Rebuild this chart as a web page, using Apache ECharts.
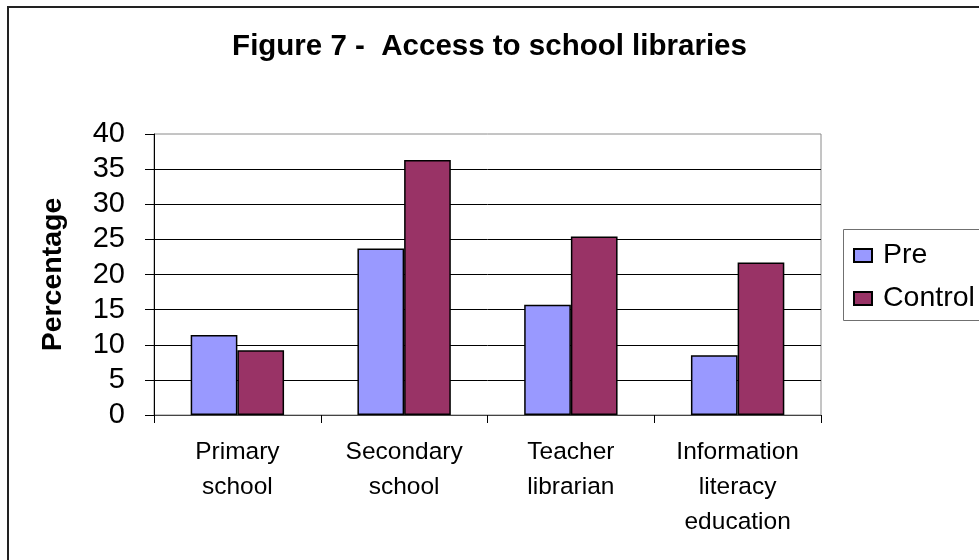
<!DOCTYPE html>
<html>
<head>
<meta charset="utf-8">
<script src="https://cdn.jsdelivr.net/npm/echarts@6/dist/echarts.min.js"></script>
<style>
  html, body { margin: 0; padding: 0; background: #fff; }
  #chart { width: 979px; height: 560px; }
</style>
</head>
<body>
<div id="chart"></div>
<script>
// Survey categories and percentages for each group
const categories = ['Primary\nschool', 'Secondary\nschool', 'Teacher\nlibrarian', 'Information\nliteracy\neducation'];
const preValues = [11.4, 23.7, 15.7, 8.5];
const controlValues = [9.2, 36.3, 25.4, 21.7];
const seriesNames = ['Pre', 'Control'];

const FONT = 'Arial, "Liberation Sans", sans-serif';

const chart = echarts.init(document.getElementById('chart'), null, { renderer: 'canvas' });

chart.setOption({
  backgroundColor: '#ffffff',
  animation: false,
  title: {
    text: 'Figure 7 -  Access to school libraries',
    left: 'center',
    top: 27,
    textStyle: { fontFamily: FONT, fontSize: 29.5, fontWeight: 'bold', color: '#000' }
  },
  graphic: [
    {
      // outer chart frame (runs off the right and bottom edges)
      type: 'rect',
      shape: { x: 8, y: 7, width: 1200, height: 800 },
      style: { fill: 'none', stroke: '#222', lineWidth: 2 },
      silent: true
    },
    {
      // legend frame, open past the right edge
      type: 'rect',
      shape: { x: 843.5, y: 229.5, width: 300, height: 91 },
      style: { fill: 'none', stroke: '#707070', lineWidth: 1 },
      silent: true
    }
  ],
  legend: {
    orient: 'vertical',
    left: 843,
    top: 229,
    padding: [12, 10, 8, 10],
    itemGap: 14,
    itemWidth: 18,
    itemHeight: 13,
    borderWidth: 0,
    icon: 'rect',
    data: seriesNames,
    textStyle: { fontFamily: FONT, fontSize: 28.5, color: '#000', lineHeight: 29, padding: [0, 0, 0, 6] }
  },
  grid: {
    left: 154, right: 158, top: 134, bottom: 145,
    show: true, borderColor: '#8a8a8a', borderWidth: 1, backgroundColor: 'transparent'
  },
  xAxis: {
    type: 'category',
    data: categories,
    axisLine: { show: true, lineStyle: { color: '#444', width: 1 } },
    axisTick: { show: true, length: 8, lineStyle: { color: '#000' } },
    axisLabel: { fontFamily: FONT, fontSize: 24.5, color: '#000', lineHeight: 35, margin: 20, interval: 0 }
  },
  yAxis: {
    type: 'value',
    min: 0, max: 40, interval: 5,
    name: 'Percentage',
    nameLocation: 'middle',
    nameGap: 86,
    nameRotate: 90,
    nameTextStyle: { fontFamily: FONT, fontSize: 28.5, fontWeight: 'bold', color: '#000' },
    axisLine: { show: true, lineStyle: { color: '#000', width: 1 } },
    axisTick: { show: true, length: 9, lineStyle: { color: '#000' } },
    axisLabel: { fontFamily: FONT, fontSize: 29, color: '#000', margin: 29 },
    splitLine: { show: true, showMaxLine: false, lineStyle: { color: '#000', width: 1 } }
  },
  series: [
    {
      name: seriesNames[0],
      type: 'bar',
      data: preValues,
      barGap: '0%',
      barCategoryGap: '44%',
      itemStyle: { color: '#9999FF', borderColor: '#000', borderWidth: 1.5 }
    },
    {
      name: seriesNames[1],
      type: 'bar',
      data: controlValues,
      barGap: '0%',
      barCategoryGap: '44%',
      itemStyle: { color: '#993366', borderColor: '#000', borderWidth: 1.5 }
    }
  ]
});
</script>
</body>
</html>
